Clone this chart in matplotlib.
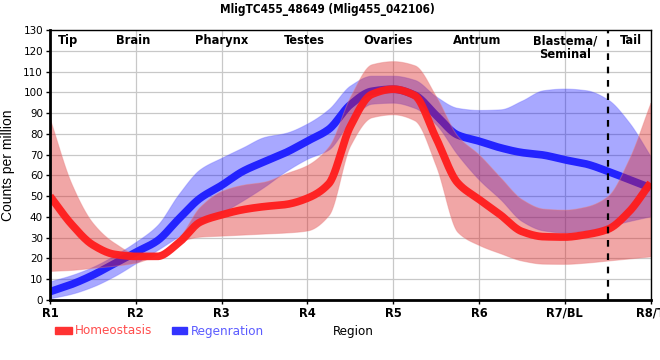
import numpy as np
import matplotlib
matplotlib.use("Agg")
import matplotlib.pyplot as plt
from matplotlib.patches import Rectangle
from matplotlib import font_manager as fm

# ---------------- data ----------------
title = "MligTC455_48649 (Mlig455_042106)"
tick_labels = ["R1", "R2", "R3", "R4", "R5", "R6", "R7/BL", "R8/T"]
region_names = ["Tip", "Brain", "Pharynx", "Testes", "Ovaries", "Antrum", "Blastema/\nSeminal", "Tail"]
region_pos = [0.21, 0.97, 2.0, 2.96, 3.94, 4.98, 6.0, 6.77]
series_names = ["Homeostasis", "Regenration"]

# sample positions along the region axis (0 = R1 ... 7 = R8/T)
sample_x = [0, 0.25, 0.5, 0.75, 1, 1.25, 1.5, 1.75, 2, 2.25, 2.5, 2.75, 3, 3.25, 3.5,
            3.75, 4, 4.25, 4.5, 4.75, 5, 5.25, 5.5, 5.75, 6, 6.25, 6.5, 6.75, 7]

homeo_mean = [50, 36.5, 26.5, 22, 21, 21, 27.5, 37.5, 41, 43.5, 45, 46, 49, 56, 83.5,
              99, 101.5, 98.5, 78, 56.5, 48.5, 41, 33, 30.5, 30.3, 31.5, 34, 42.5, 56.4]
homeo_upper = [87, 56, 37, 27.5, 22.5, 22.5, 30, 45, 52.5, 55.5, 57, 61, 65, 74, 98,
               113.5, 115, 113, 98, 79, 70, 59, 48.5, 44, 43.5, 45, 50, 68, 95]
homeo_lower = [14, 14.5, 15.5, 16.5, 18, 22, 28, 30.5, 31, 31.5, 32, 32.5, 33.5, 41, 74.5,
               88, 89.4, 86.5, 64.5, 32.8, 26.5, 22.5, 19, 17.5, 17.4, 18, 19, 20, 21]

regen_mean = [4, 7.5, 12, 17.5, 23, 28.5, 39, 49, 55.2, 62, 66.6, 71, 76.5, 82.2, 94,
              100.5, 101.5, 98.7, 89, 79.5, 76.5, 73.3, 71, 69.8, 67.5, 65.5, 62, 58, 54]
regen_upper = [9, 12, 16, 21.5, 28, 36, 51, 63, 68.5, 73.5, 78.5, 80.5, 85, 92, 103.3,
               108, 108, 106, 98, 92.5, 91.5, 91.8, 96, 101, 101.8, 101, 96.6, 85.5, 69.3]
regen_lower = [0.8, 3, 6.5, 11.5, 17.7, 24, 30.6, 36.5, 42, 48, 54.6, 62, 68, 72.5, 86,
               94.5, 95, 92.5, 84.5, 70, 58, 48.5, 38, 33.5, 32.5, 33.5, 35.5, 38, 40.3]

boundary_x = 6.5


# ---------------- helpers ----------------
def pchip(x, y, xn):
    x = np.asarray(x, float); y = np.asarray(y, float)
    h = np.diff(x); d = np.diff(y) / h
    m = np.zeros_like(y)
    m[0] = d[0]; m[-1] = d[-1]
    for k in range(1, len(x) - 1):
        if d[k - 1] * d[k] > 0:
            w1 = 2 * h[k] + h[k - 1]; w2 = h[k] + 2 * h[k - 1]
            m[k] = (w1 + w2) / (w1 / d[k - 1] + w2 / d[k])
    idx = np.clip(np.searchsorted(x, xn) - 1, 0, len(x) - 2)
    t = (xn - x[idx]) / h[idx]
    h00 = 2 * t**3 - 3 * t**2 + 1; h10 = t**3 - 2 * t**2 + t
    h01 = -2 * t**3 + 3 * t**2; h11 = t**3 - t**2
    return h00 * y[idx] + h10 * h[idx] * m[idx] + h01 * y[idx + 1] + h11 * h[idx] * m[idx + 1]


names = {f.name for f in fm.fontManager.ttflist}
if "Liberation Sans Narrow" in names:
    NARROW = dict(family=["Liberation Sans Narrow", "DejaVu Sans"])
    SC = 1.0
elif any(f.name == "DejaVu Sans" and "ondensed" in str(f.fname) for f in fm.fontManager.ttflist):
    NARROW = dict(family=["DejaVu Sans"], stretch="condensed")
    SC = 0.92
else:
    NARROW = dict(family=["Liberation Sans", "DejaVu Sans"])
    SC = 0.86
REG = ["Liberation Sans", "DejaVu Sans"]

fig = plt.figure(figsize=(6.6, 3.6), dpi=100)
ax = fig.add_axes([50 / 660, 60 / 360, 600.5 / 660, 270 / 360])

xs = np.linspace(0, 7, 700)
red = "#ff1c1c"
blue = "#1c1cff"

ax.fill_between(xs, pchip(sample_x, regen_lower, xs), pchip(sample_x, regen_upper, xs),
                color="#0000ff", alpha=0.34, linewidth=0.8, edgecolor="#6a6aff", zorder=2)
ax.plot(xs, pchip(sample_x, regen_mean, xs), color=blue, lw=5.5, alpha=0.95,
        solid_capstyle="butt", zorder=3)
ax.fill_between(xs, pchip(sample_x, homeo_lower, xs), pchip(sample_x, homeo_upper, xs),
                color="#dd2222", alpha=0.40, linewidth=0.8, edgecolor="#e88080", zorder=4)
ax.plot(xs, pchip(sample_x, homeo_mean, xs), color=red, lw=5.5, alpha=0.95,
        solid_capstyle="butt", zorder=5)

ax.axvline(boundary_x, color="black", lw=1.6, ls=(0, (3, 3)), zorder=6)

ax.set_xlim(0, 7)
ax.set_ylim(0, 130)
ax.set_xticks(range(len(tick_labels)))
ax.set_xticklabels(tick_labels, fontweight="bold", fontsize=10 * SC, **NARROW)
ax.set_yticks(np.arange(0, 131, 10))
ax.set_yticklabels([str(v) for v in range(0, 131, 10)], fontsize=9 * SC, **NARROW)
ax.tick_params(axis="both", length=3, width=1, pad=2, color="black")
ax.grid(True, color="#c8c8c8", lw=0.9, zorder=0)
ax.set_axisbelow(True)
for s in ["top", "right"]:
    ax.spines[s].set_linewidth(1.0)
for s in ["left", "bottom"]:
    ax.spines[s].set_linewidth(2.0)
for s in ax.spines.values():
    s.set_zorder(10)

ax.set_ylabel("Counts per million", fontfamily=REG, fontsize=10, labelpad=6)

for name, xp in zip(region_names, region_pos):
    ax.text(xp, 128, name, ha="center", va="top", fontweight="bold",
            fontsize=10 * SC, linespacing=1.05, zorder=11, **NARROW)

fig.text(327 / 660, 1 - 10 / 360, title, ha="center", va="center",
         fontweight="bold", fontsize=9.2 * SC, **NARROW)

fig.patches.append(Rectangle((55 / 660, 1 - 334 / 360), 17 / 660, 7 / 360,
                             transform=fig.transFigure, color="#ff3333", figure=fig))
fig.text(75 / 660, 1 - 331 / 360, series_names[0], ha="left", va="center",
         fontsize=10.5 * SC, color="#ff4d4d", **NARROW)
fig.patches.append(Rectangle((172 / 660, 1 - 334 / 360), 15 / 660, 7 / 360,
                             transform=fig.transFigure, color="#3333ff", figure=fig))
fig.text(191 / 660, 1 - 331 / 360, series_names[1], ha="left", va="center",
         fontsize=10.5 * SC, color="#5c5cff", **NARROW)
fig.text(353 / 660, 1 - 331 / 360, "Region", ha="center", va="center",
         fontsize=10.5 * SC, color="black", **NARROW)

fig.savefig("out.png", dpi=100)
